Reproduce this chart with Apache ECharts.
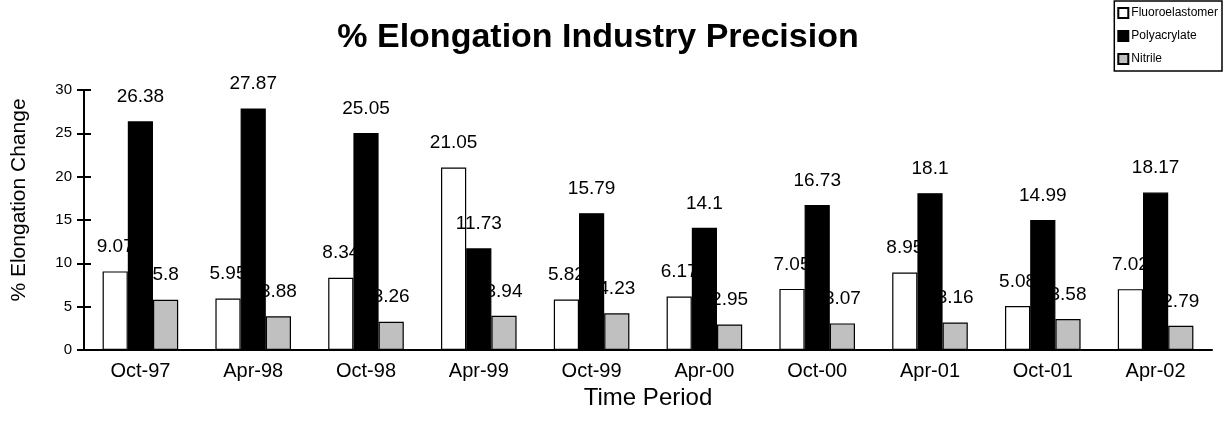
<!DOCTYPE html>
<html>
<head>
<meta charset="utf-8">
<script src="https://cdn.jsdelivr.net/npm/echarts@6/dist/echarts.min.js"></script>
<style>
  html, body { margin: 0; padding: 0; background: #ffffff; }
  #chart { width: 1225px; height: 429px; }
</style>
</head>
<body>
<div id="chart"></div>
<script>
// values
var periods = ['Oct-97', 'Apr-98', 'Oct-98', 'Apr-99', 'Oct-99', 'Apr-00', 'Oct-00', 'Apr-01', 'Oct-01', 'Apr-02']
var fluoroelastomer = [9.07, 5.95, 8.34, 21.05, 5.82, 6.17, 7.05, 8.95, 5.08, 7.02]
var polyacrylate = [26.38, 27.87, 25.05, 11.73, 15.79, 14.1, 16.73, 18.1, 14.99, 18.17]
var nitrile = [5.8, 3.88, 3.26, 3.94, 4.23, 2.95, 3.07, 3.16, 3.58, 2.79]
var yTicks = [0, 5, 10, 15, 20, 25, 30]

var font = 'Arial, "Liberation Sans", sans-serif'

function barSeries (name, data, color) {
  return {
    name: name,
    type: 'bar',
    data: data,
    barGap: '0%',
    barCategoryGap: '33%',
    itemStyle: {
      color: color,
      borderColor: '#000000',
      borderWidth: 1.2
    },
    label: {
      show: true,
      position: 'top',
      distance: 15,
      color: '#000000',
      fontFamily: font,
      fontSize: 19
    }
  }
}

// y axis drawn twice so the ticks cross the axis line
function valueAxis (inside) {
  return {
    type: 'value',
    min: yTicks[0],
    max: yTicks[yTicks.length - 1],
    interval: 5,
    position: 'left',
    splitLine: { show: false },
    axisLine: { show: true, lineStyle: { color: '#000000', width: 2 } },
    axisTick: { show: true, inside: inside, length: 7, lineStyle: { color: '#000000', width: 2 } },
    axisLabel: {
      show: !inside,
      fontFamily: font,
      fontSize: 15,
      color: '#000000',
      margin: 12
    }
  }
}

var yMain = valueAxis(false)
yMain.name = '% Elongation Change'
yMain.nameLocation = 'middle'
yMain.nameGap = 54
yMain.nameTextStyle = { fontFamily: font, fontSize: 21, color: '#000000', padding: [0, 0, 0, 40] }

var chart = echarts.init(document.getElementById('chart'))
chart.setOption({
  animation: false,
  backgroundColor: '#ffffff',
  title: {
    text: '% Elongation Industry Precision',
    left: 593,
    textAlign: 'center',
    top: 16,
    textStyle: {
      fontFamily: font,
      fontSize: 34,
      fontWeight: 'bold',
      color: '#000000'
    }
  },
  legend: {
    orient: 'vertical',
    right: 3,
    top: 1,
    itemWidth: 10,
    itemHeight: 10,
    itemGap: 11,
    padding: [6, 4, 6, 3],
    borderColor: '#000000',
    borderWidth: 1.5,
    borderRadius: 0,
    icon: 'rect',
    textStyle: {
      fontFamily: font,
      fontSize: 12,
      color: '#000000',
      padding: [0, 0, 0, -2]
    },
    data: ['Fluoroelastomer', 'Polyacrylate', 'Nitrile']
  },
  grid: {
    left: 84,
    right: 13,
    top: 90,
    bottom: 79
  },
  xAxis: {
    type: 'category',
    data: periods,
    name: 'Time Period',
    nameLocation: 'middle',
    nameGap: 34,
    nameTextStyle: {
      fontFamily: font,
      fontSize: 24,
      color: '#000000'
    },
    axisLine: { lineStyle: { color: '#000000', width: 2 } },
    axisTick: { length: 7, lineStyle: { color: '#000000', width: 2 } },
    axisLabel: {
      fontFamily: font,
      fontSize: 20,
      color: '#000000',
      margin: 11
    }
  },
  yAxis: [yMain, valueAxis(true)],
  series: [
    barSeries('Fluoroelastomer', fluoroelastomer, '#ffffff'),
    barSeries('Polyacrylate', polyacrylate, '#000000'),
    barSeries('Nitrile', nitrile, '#c0c0c0')
  ]
})
</script>
</body>
</html>
